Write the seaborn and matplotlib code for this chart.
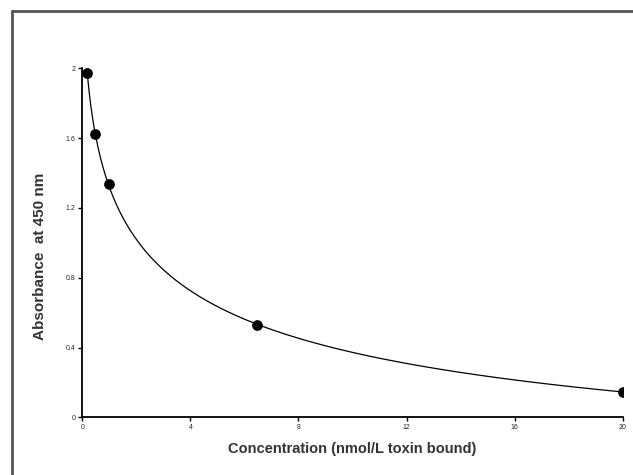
import numpy as np
import pandas as pd
import matplotlib
matplotlib.use("Agg")
import matplotlib.pyplot as plt
import seaborn as sns
from matplotlib.lines import Line2D

# values
concentration = [0.185, 0.47, 0.98, 6.48, 20.0]
absorbance = [1.975, 1.624, 1.336, 0.529, 0.147]
x_ticks = [0, 4, 8, 12, 16, 20]
y_ticks = [0, 0.4, 0.8, 1.2, 1.6, 2]
y_ticklabels = ['0', '0.4', '0.8', '1.2', '1.6', '2']

df = pd.DataFrame({'Concentration': concentration, 'Absorbance': absorbance})

# 4-parameter logistic standard curve, fitted by grid search over slope/ec50
xd = np.array(concentration)
yd = np.array(absorbance)
best = None
for b in np.linspace(0.3, 3.0, 136):
    for c in np.logspace(-1.5, 2.5, 400):
        f = 1.0 / (1.0 + (xd / c) ** b)
        A = np.column_stack([np.ones_like(f), f])
        coef, *_ = np.linalg.lstsq(A, yd, rcond=None)
        err = np.sum((A @ coef - yd) ** 2)
        if best is None or err < best[0]:
            best = (err, b, c, coef)
_, b, c, coef = best
xs = np.linspace(xd.min(), xd.max(), 400)
fit = pd.DataFrame({'Concentration': xs,
                    'Absorbance': coef[0] + coef[1] / (1.0 + (xs / c) ** b)})

sns.set_style('ticks')
plt.rcParams['font.family'] = ['Liberation Sans', 'DejaVu Sans']

fig = plt.figure(figsize=(6.33, 4.75), dpi=100)
ax = fig.add_axes([82.3 / 633, 1 - 417.3 / 475, 540.4 / 633, 349 / 475])

sns.lineplot(x='Concentration', y='Absorbance', data=fit, ax=ax,
             color='black', lw=0.9)
sns.scatterplot(x='Concentration', y='Absorbance', data=df, ax=ax,
                s=60, color='black', linewidth=0, alpha=1, zorder=3)

ax.set_xlim(0, 20)
ax.set_ylim(0, 2)
ax.set_xticks(x_ticks)
ax.set_yticks(y_ticks)
ax.set_xticklabels([str(t) for t in x_ticks])
ax.set_yticklabels(y_ticklabels)
ax.tick_params(labelsize=5, length=3, width=1, color='black', pad=2)
sns.despine(ax=ax)
for s in ['left', 'bottom']:
    ax.spines[s].set_linewidth(1.3)
    ax.spines[s].set_color('black')

ax.set_xlabel('Concentration (nmol/L toxin bound)', fontsize=10.5,
              fontweight='bold', color='#333333', labelpad=8)
ax.set_ylabel('Absorbance  at 450 nm', fontsize=11,
              fontweight='bold', color='#333333')
ax.yaxis.set_label_coords(-0.066, 0.462)

# partial outer frame (top and left edges visible)
fig.add_artist(Line2D([12 / 633, 12 / 633], [0, 1 - 11 / 475],
                      transform=fig.transFigure, color='#555555', lw=2))
fig.add_artist(Line2D([12 / 633, 1], [1 - 11 / 475, 1 - 11 / 475],
                      transform=fig.transFigure, color='#555555', lw=2))

fig.savefig('out.png', dpi=100)
